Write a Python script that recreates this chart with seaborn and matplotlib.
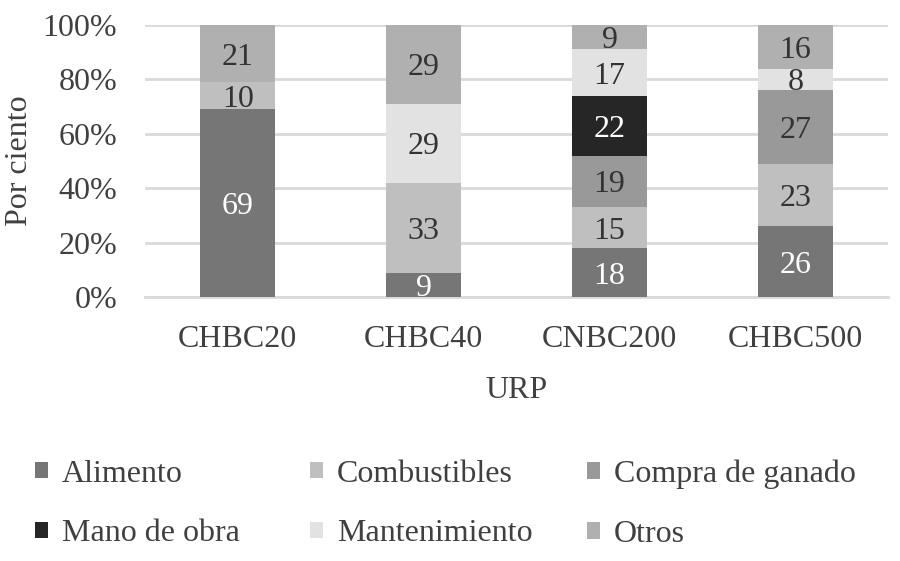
import matplotlib
matplotlib.use("Agg")
import matplotlib.pyplot as plt
import matplotlib.patches as mpatches
import seaborn as sns
import numpy as np
import pandas as pd

categories = ["CHBC20", "CHBC40", "CNBC200", "CHBC500"]
series_names = ["Alimento", "Combustibles", "Compra de ganado", "Mano de obra", "Mantenimiento", "Otros"]
alimento = [69, 9, 18, 26]
combustibles = [10, 33, 15, 23]
compra_ganado = [0, 0, 19, 27]
mano_obra = [0, 0, 22, 0]
mantenimiento = [0, 29, 17, 8]
otros = [21, 29, 9, 16]
y_ticks = [0, 20, 40, 60, 80, 100]
y_tick_labels = ["0%", "20%", "40%", "60%", "80%", "100%"]

values = [alimento, combustibles, compra_ganado, mano_obra, mantenimiento, otros]
colors = ["#767676", "#bfbfbf", "#999999", "#262626", "#e2e2e2", "#b0b0b0"]
text_colors = ["white", "#333333", "#333333", "white", "#333333", "#333333"]

sns.set_theme(style="white")
plt.rcParams["font.family"] = ["Liberation Serif", "DejaVu Serif"]

FS = 23
fig = plt.figure(figsize=(9, 5.61), dpi=100)
ax = fig.add_axes([0.161, 0.4706, 0.826, 0.4848])

bottoms = np.zeros(len(categories))
for name, vals, col, tc in zip(series_names, values, colors, text_colors):
    df = pd.DataFrame({"URP": categories, "v": vals})
    sns.barplot(data=df, x="URP", y="v", order=categories, color=col, width=0.405,
                bottom=bottoms.copy(), linewidth=0, saturation=1, ax=ax, zorder=3)
    for i, v in enumerate(vals):
        if v > 0:
            ax.text(i, bottoms[i] + v / 2, str(v), ha="center", va="center_baseline",
                    fontsize=FS, color=tc, zorder=5)
    bottoms = bottoms + np.array(vals)

ax.set_ylim(0, 100)
ax.set_xlim(-0.5, 3.5)
ax.set_yticks(y_ticks)
ax.set_yticklabels(y_tick_labels)
ax.yaxis.grid(True, color="#d9d9d9", linewidth=2, zorder=0)
ax.set_axisbelow(True)
for s in ["left", "right", "top"]:
    ax.spines[s].set_visible(False)
ax.spines["bottom"].set_color("#d9d9d9")
ax.spines["bottom"].set_linewidth(2)
ax.tick_params(axis="both", length=0, labelsize=FS, colors="#404040")
ax.tick_params(axis="y", pad=20)
ax.tick_params(axis="x", pad=20)
ax.set_xlabel("URP", fontsize=FS, color="#404040", labelpad=16)
ax.set_ylabel("Por ciento", fontsize=FS, color="#404040", labelpad=6)

handles = [mpatches.Patch(facecolor=c, edgecolor="none", label=n) for n, c in zip(series_names, colors)]
col_x = [35 / 900, 310 / 900, 587 / 900]
for k in range(3):
    hs = [handles[k], handles[k + 3]]
    leg = fig.legend(handles=hs, loc="center left", bbox_to_anchor=(col_x[k], 1 - 504 / 561),
                     ncol=1, frameon=False, fontsize=FS, handlelength=0.42, handleheight=0.42,
                     handletextpad=0.42, labelspacing=0.97, borderpad=0, borderaxespad=0,
                     labelcolor="#404040")

fig.savefig("out.png", dpi=100)
